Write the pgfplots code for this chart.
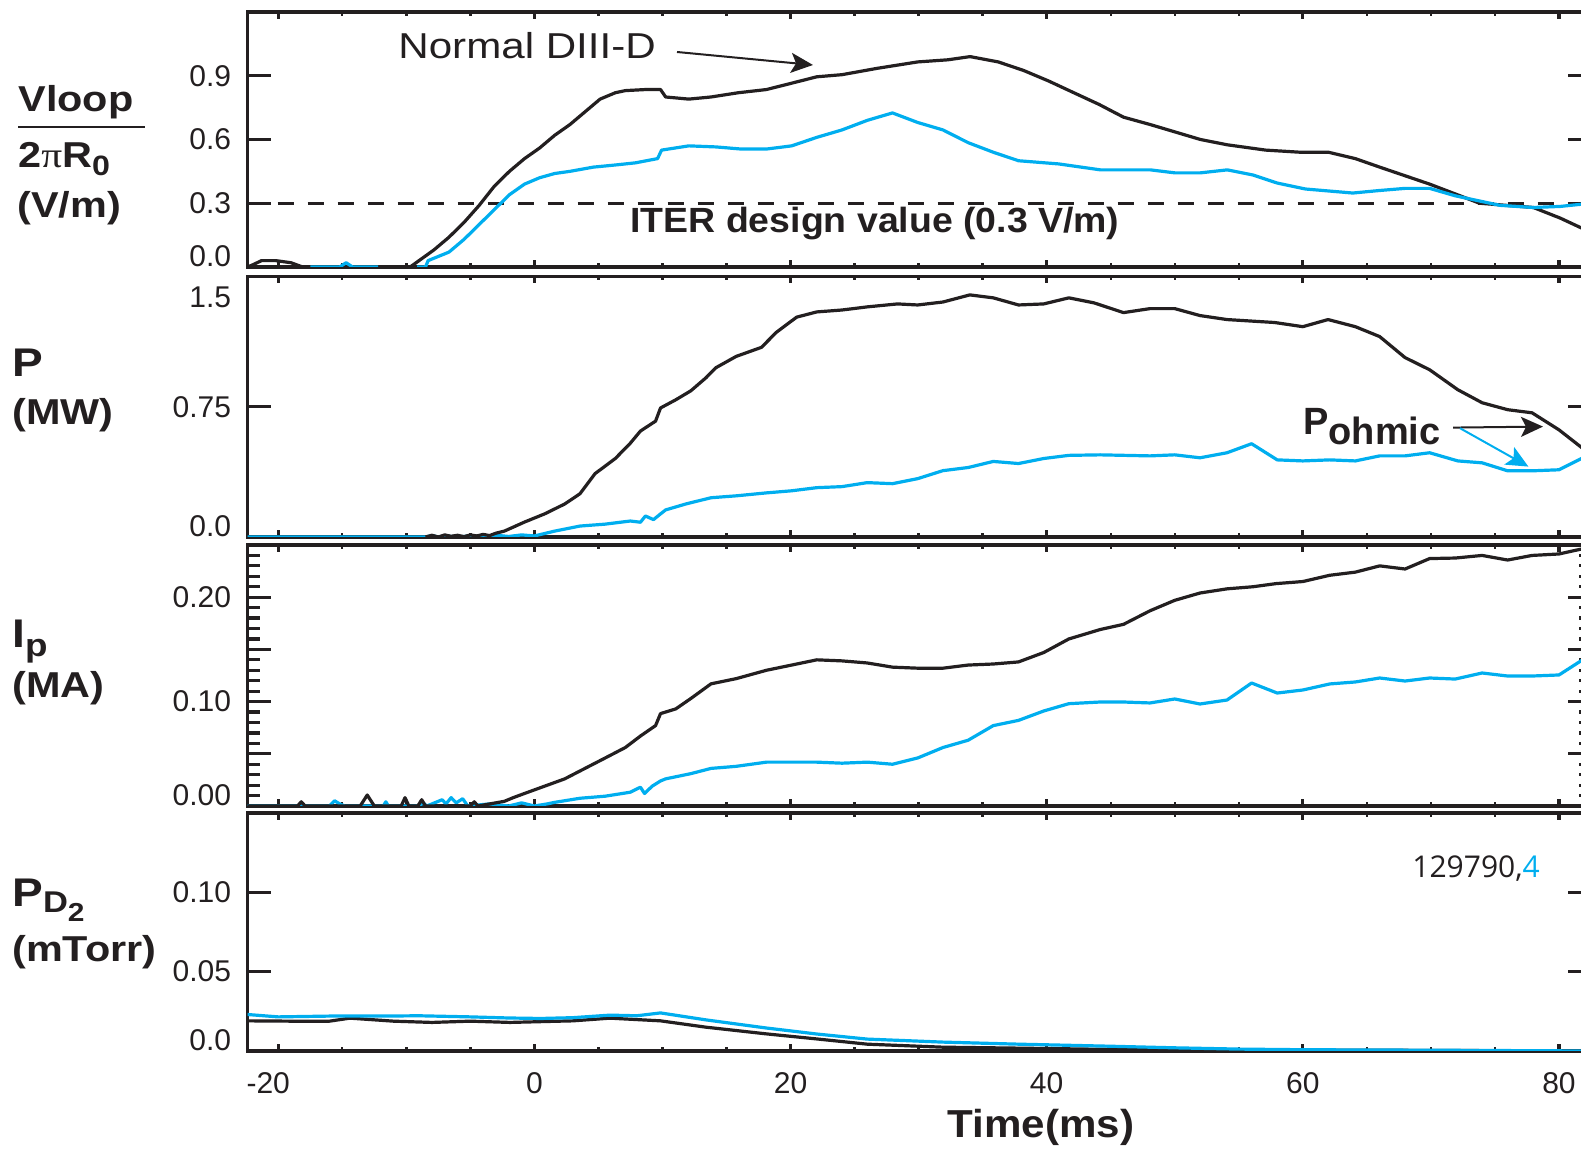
\documentclass[border=0pt]{standalone}
\usepackage{fontspec}
\setmainfont{Liberation Sans}
\newfontfamily\osans{Open Sans}
\newfontfamily\lserif{Liberation Serif}
\usepackage{pgfplots}
\pgfplotsset{compat=1.18}
\usetikzlibrary{arrows.meta}
\definecolor{cy}{RGB}{0,174,239}
\definecolor{bk}{RGB}{35,31,32}
\pgfplotsset{
  panel/.style={
    scale only axis, width=671.75pt, anchor=south west,
    xmin=-22.4, xmax=82.5, ymin=0,
    axis line style={line width=1.6pt, bk},
    tick align=inside, tick pos=both,
    xtick={-20,0,20,40,60,80}, minor x tick num=3, xticklabels={},
    tick style={line width=1.6pt, bk},
    major tick length=11.5pt, minor tick length=6pt,
    major x tick style={/pgfplots/major tick length=3.5pt},
    minor x tick style={/pgfplots/minor tick length=2pt, line width=1.2pt},
    tick label style={font=\fontsize{15}{15}\selectfont, text=bk},
    yticklabel style={anchor=east, inner sep=0pt, xshift=-8pt},
    xticklabel style={anchor=north, inner sep=0pt, yshift=-10.5pt},
  },
  bl/.style={bk, line width=1.6pt, line join=round},
  cl/.style={cy, line width=1.6pt, line join=round},
}
\begin{document}
\begin{tikzpicture}
\path[use as bounding box] (0,0) rectangle (790.5pt,575.5pt);
\clip (0,0) rectangle (790.5pt,575.5pt);
% ---------- Panel 1: Vloop ----------
\begin{axis}[panel, at={(123.75pt,442pt)}, height=127.5pt, ymax=1.2,
  ytick={0,0.3,0.6,0.9}, yticklabels={\smash{0.0},0.3,0.6,0.9}]
\addplot[bk, line width=1.6pt, dash pattern=on 8pt off 7pt] coordinates {(-22.4,0.3) (82.5,0.3)};
\addplot[bl] coordinates {(-22.4,0.0)(-22.0,0.01)(-21.3,0.03)(-20.2,0.03)(-19.0,0.02)(-18.1,0.0)(-9.7,0.0)(-7.85,0.08)(-6.67,0.14)(-5.49,0.21)(-4.31,0.29)(-3.13,0.38)(-1.95,0.45)(-0.77,0.51)(0.41,0.56)(1.59,0.62)(2.77,0.67)(3.95,0.73)(5.13,0.79)(6.32,0.82)(7.1,0.83)(8.67,0.835)(9.85,0.835)(10.25,0.80)(12.06,0.79)(13.79,0.80)(15.92,0.82)(18.12,0.835)(20.09,0.865)(22.05,0.895)(24.02,0.905)(26.78,0.935)(29.93,0.965)(32.29,0.975)(34.02,0.99)(36.22,0.965)(38.19,0.925)(40.16,0.875)(42.12,0.82)(44.09,0.765)(46.0,0.705)(48.1,0.67)(52.0,0.60)(54.1,0.575)(57.1,0.55)(59.8,0.54)(62.0,0.54)(64.1,0.51)(66.0,0.47)(69.9,0.39)(73.8,0.30)(78.0,0.28)(80.1,0.23)(81.7,0.185)(82.5,0.16)};
\addplot[cl] coordinates {(-17.5,0)(-15.2,0)(-14.7,0.02)(-14.2,0)(-12.2,0)};
\addplot[cl] coordinates {(-9.15,0)(-8.5,0)(-8.3,0.03)(-6.67,0.07)(-5.49,0.13)(-4.31,0.2)(-3.13,0.27)(-1.95,0.34)(-0.77,0.39)(0.41,0.42)(1.59,0.44)(2.77,0.45)(4.61,0.47)(6.32,0.48)(7.88,0.49)(9.62,0.51)(9.93,0.55)(12.06,0.57)(14.18,0.565)(16.15,0.555)(18.12,0.555)(20.09,0.57)(22.05,0.61)(24.02,0.645)(25.99,0.69)(27.96,0.725)(29.93,0.68)(31.9,0.645)(33.87,0.585)(35.83,0.54)(37.8,0.50)(40.94,0.485)(44.2,0.457)(48.1,0.457)(50.0,0.443)(52.0,0.443)(54.1,0.457)(56.1,0.433)(58.0,0.395)(60.2,0.367)(63.9,0.348)(66.0,0.36)(68.0,0.37)(69.9,0.37)(71.9,0.335)(75.4,0.29)(78.0,0.28)(80.1,0.285)(81.7,0.295)(82.5,0.30)};
\end{axis}
% ---------- Panel 2: P ----------
\begin{axis}[panel, at={(123.75pt,307pt)}, height=130.25pt, ymax=1.5,
  ytick={0,0.75,1.5}, yticklabels={\smash{0.0},0.75,\smash{\raisebox{-15.5pt}{1.5}}}]
\addplot[cl] coordinates {(-22.4,0)(-8.5,0)(-8,0.008)(-7.5,0)(-7,0.006)(-6,0)(-5,0.006)(-4,0)(-3,0.01)(-2,0.003)(-1,0.012)(0,0.006)(0.8,0.02)(1.59,0.034)(3.56,0.063)(5.53,0.074)(7.49,0.092)(8.28,0.085)(8.67,0.121)(9.3,0.1)(9.85,0.133)(10.25,0.156)(11.82,0.19)(13.79,0.226)(15.76,0.237)(18.12,0.254)(20.09,0.266)(22.05,0.284)(24.02,0.29)(25.99,0.313)(27.96,0.307)(29.93,0.336)(31.9,0.382)(33.87,0.40)(35.83,0.435)(37.8,0.423)(39.77,0.452)(41.73,0.47)(44.17,0.473)(48.07,0.467)(50.0,0.473)(51.97,0.456)(54.08,0.485)(56.0,0.537)(58.0,0.444)(60.0,0.438)(62.1,0.444)(64.1,0.438)(66.0,0.467)(67.98,0.467)(69.9,0.485)(72.1,0.438)(74.0,0.427)(75.99,0.381)(77.9,0.381)(80.0,0.387)(81.7,0.45)(82.5,0.48)};
\addplot[bl] coordinates {(-8.5,0)(-8,0.01)(-7.5,0.0)(-7,0.012)(-6.5,0.004)(-6,0.01)(-5.5,0.002)(-5,0.012)(-4.5,0.006)(-4,0.015)(-3.5,0.008)(-3,0.022)(-2.34,0.034)(-0.77,0.086)(0.8,0.133)(2.37,0.19)(3.56,0.249)(4.74,0.365)(6.32,0.452)(7.49,0.54)(8.28,0.61)(9.46,0.667)(9.85,0.743)(11.04,0.79)(12.22,0.842)(13.4,0.917)(14.18,0.975)(15.76,1.04)(17.73,1.092)(18.9,1.179)(20.48,1.266)(22.05,1.296)(24.02,1.307)(25.99,1.325)(28.35,1.342)(29.93,1.336)(31.9,1.353)(34.0,1.394)(35.83,1.377)(37.8,1.336)(39.77,1.342)(41.73,1.377)(43.7,1.348)(46.0,1.292)(48.07,1.315)(50.0,1.315)(51.97,1.275)(54.08,1.252)(57.8,1.235)(60.0,1.211)(61.97,1.252)(64.1,1.211)(66.0,1.154)(67.98,1.033)(69.9,0.963)(72.1,0.848)(74.0,0.773)(75.99,0.733)(77.9,0.715)(80.0,0.617)(81.7,0.519)(82.5,0.47)};
\end{axis}
% ---------- Panel 3: Ip ----------
\begin{axis}[panel, at={(123.75pt,172.5pt)}, height=130.5pt, ymax=0.25,
  ytick={0,0.05,0.1,0.15,0.2,0.25}, yticklabels={\smash{0.00},,0.10,,0.20,},
  minor y tick num=4]
\addplot[cl] coordinates {(-22.4,0)(-16,0)(-15.6,0.005)(-15.2,0.002)(-14.8,0)(-11.8,0)(-11.6,0.004)(-11.4,0)(-9,0)(-8.7,0.003)(-8.4,0)(-7.2,0.006)(-6.9,0.002)(-6.5,0.008)(-6.1,0.003)(-5.6,0.007)(-5.2,0)(-3.5,0.002)(-2,0)(-1,0.003)(0,0)(1,0.002)(1.59,0.0035)(3.56,0.0074)(5.53,0.0094)(7.49,0.0132)(8.28,0.018)(8.6,0.012)(9.2,0.019)(9.85,0.024)(10.25,0.026)(12.22,0.031)(13.79,0.036)(15.76,0.038)(18.12,0.042)(22.05,0.042)(24.02,0.041)(25.99,0.042)(27.96,0.040)(29.93,0.046)(31.9,0.056)(33.87,0.063)(35.83,0.077)(37.8,0.082)(39.77,0.091)(41.73,0.098)(44.17,0.0996)(46.0,0.0996)(48.07,0.0987)(50.0,0.1025)(51.97,0.0977)(54.08,0.1015)(56.0,0.1178)(58.0,0.1082)(60.0,0.1111)(62.1,0.1169)(64.1,0.1188)(66.0,0.1226)(67.98,0.1197)(69.9,0.1226)(71.9,0.1216)(74.0,0.1274)(75.99,0.1245)(77.9,0.1245)(80.0,0.1255)(81.7,0.1389)(82.5,0.144)};
\addplot[bl] coordinates {(-22.4,0)(-18.5,0)(-18.2,0.004)(-17.9,0)(-13.6,0)(-13.05,0.0105)(-12.5,0)(-10.4,0)(-10.1,0.008)(-9.8,0)(-9.1,0)(-8.8,0.006)(-8.5,0)(-5,0)(-4.7,0.004)(-4.4,0)(-2.34,0.0045)(-1.65,0.008)(-0.77,0.012)(0.8,0.019)(2.37,0.026)(3.95,0.036)(5.53,0.046)(7.1,0.056)(8.28,0.067)(9.46,0.077)(9.85,0.0885)(11.04,0.093)(12.22,0.103)(13.79,0.117)(15.76,0.122)(18.12,0.130)(20.09,0.135)(22.05,0.140)(24.02,0.139)(25.99,0.137)(27.96,0.133)(29.93,0.132)(31.9,0.132)(33.87,0.135)(35.83,0.136)(37.8,0.138)(39.77,0.147)(41.73,0.160)(44.17,0.169)(46.0,0.174)(48.07,0.187)(50.0,0.197)(51.97,0.204)(54.08,0.208)(56.1,0.21)(57.9,0.213)(60.0,0.215)(62.1,0.221)(64.1,0.224)(66.0,0.23)(67.98,0.227)(69.9,0.237)(71.9,0.2375)(74.0,0.24)(75.99,0.2356)(77.9,0.24)(80.0,0.2414)(81.7,0.246)(82.5,0.247)};
\end{axis}
% ---------- Panel 4: PD2 ----------
\begin{axis}[panel, at={(123.75pt,50pt)}, height=119pt, ymax=0.15,
  ytick={0,0.05,0.1}, yticklabels={\smash{0.0},0.05,0.10},
  xticklabels={\llap{-}20\phantom{-},0,20,40,60,80}]
\addplot[bl] coordinates {(-22.4,0.019)(-19,0.0188)(-16,0.0188)(-14.4,0.0207)(-11,0.0188)(-8,0.018)(-5,0.0188)(-1.9,0.018)(1,0.0186)(3,0.019)(5.9,0.0207)(9.85,0.019)(13.4,0.015)(18.1,0.0108)(22.05,0.0076)(25.99,0.0043)(31.9,0.0024)(37.8,0.0018)(45,0.001)(55,0.0005)(65,0.0005)(82.5,0.0)};
\addplot[cl] coordinates {(-22.4,0.023)(-20,0.0215)(-16,0.022)(-12,0.022)(-9,0.0222)(-5,0.0215)(-2,0.0208)(0.5,0.0205)(3,0.021)(5.9,0.0226)(8,0.0222)(9.85,0.024)(13.4,0.0196)(18.1,0.0145)(22.05,0.0107)(25.99,0.0075)(31.9,0.0056)(37.8,0.0043)(45,0.003)(50,0.002)(55,0.0012)(60,0.0008)(70,0.0005)(82.5,0.0)};
\end{axis}
% ---------- left labels ----------
\begin{scope}[every node/.style={anchor=base west, inner sep=0pt, text=bk}]
\node at (9pt,519.5pt) {\scalebox{1.15}[1]{\fontsize{18}{18}\selectfont\bfseries Vloop}};
\draw[bk, line width=1pt] (9pt,512pt) -- (72.5pt,512pt);
\node at (9pt,491.5pt) {\scalebox{1.15}[1]{\fontsize{18}{18}\selectfont\bfseries 2{\lserif\mdseries π}R\raisebox{-4pt}{\fontsize{14}{14}\selectfont 0}}};
\node at (8.5pt,466.5pt) {\scalebox{1.15}[1]{\fontsize{18}{18}\selectfont\bfseries (V/m)}};
\node at (6pt,387pt) {\scalebox{1.15}[1]{\fontsize{20}{20}\selectfont\bfseries P}};
\node at (6pt,363pt) {\scalebox{1.15}[1]{\fontsize{18}{18}\selectfont\bfseries (MW)}};
\node at (6pt,251.5pt) {\scalebox{1.15}[1]{\fontsize{20}{20}\selectfont\bfseries I\raisebox{-4.5pt}{\fontsize{16}{16}\selectfont p}}};
\node at (6pt,226.5pt) {\scalebox{1.15}[1]{\fontsize{18}{18}\selectfont\bfseries (MA)}};
\node at (6pt,122pt) {\scalebox{1.15}[1]{\fontsize{20}{20}\selectfont\bfseries P\raisebox{-3pt}{\fontsize{15}{15}\selectfont D\raisebox{-4.5pt}{\fontsize{13}{13}\selectfont 2}}}};
\node at (6pt,94.5pt) {\scalebox{1.15}[1]{\fontsize{18}{18}\selectfont\bfseries (mTorr)}};
\node at (199pt,546pt) {\scalebox{1.17}[1]{\fontsize{18}{18}\selectfont Normal DIII-D}};
\node at (315pt,459pt) {\scalebox{1.07}[1]{\fontsize{17.5}{18}\selectfont\bfseries ITER design value (0.3 V/m)}};
\node at (651.5pt,358pt) {\fontsize{19}{19}\selectfont\bfseries P\raisebox{-5pt}{ohmic}};
\node at (706pt,136.5pt) {\fontsize{15}{15}\selectfont\osans 129790,\textcolor{cy}{4}};
\node[anchor=base] at (520.5pt,6.5pt) {\scalebox{1.08}[1]{\fontsize{19.5}{20}\selectfont\bfseries Time(ms)}};
\end{scope}
\draw[bk, line width=1pt, -{Stealth[length=11pt,width=10pt,inset=2.5pt]}] (338.5pt,549.5pt) -- (406.5pt,543pt);
\draw[bk, line width=1pt, -{Stealth[length=11pt,width=10pt,inset=2.5pt]}] (726.5pt,361.7pt) -- (771.5pt,362.2pt);
\draw[cy, line width=1pt, -{Stealth[length=11pt,width=10pt,inset=2.5pt]}] (730pt,361.4pt) -- (764.2pt,342.2pt);
\end{tikzpicture}
\end{document}
